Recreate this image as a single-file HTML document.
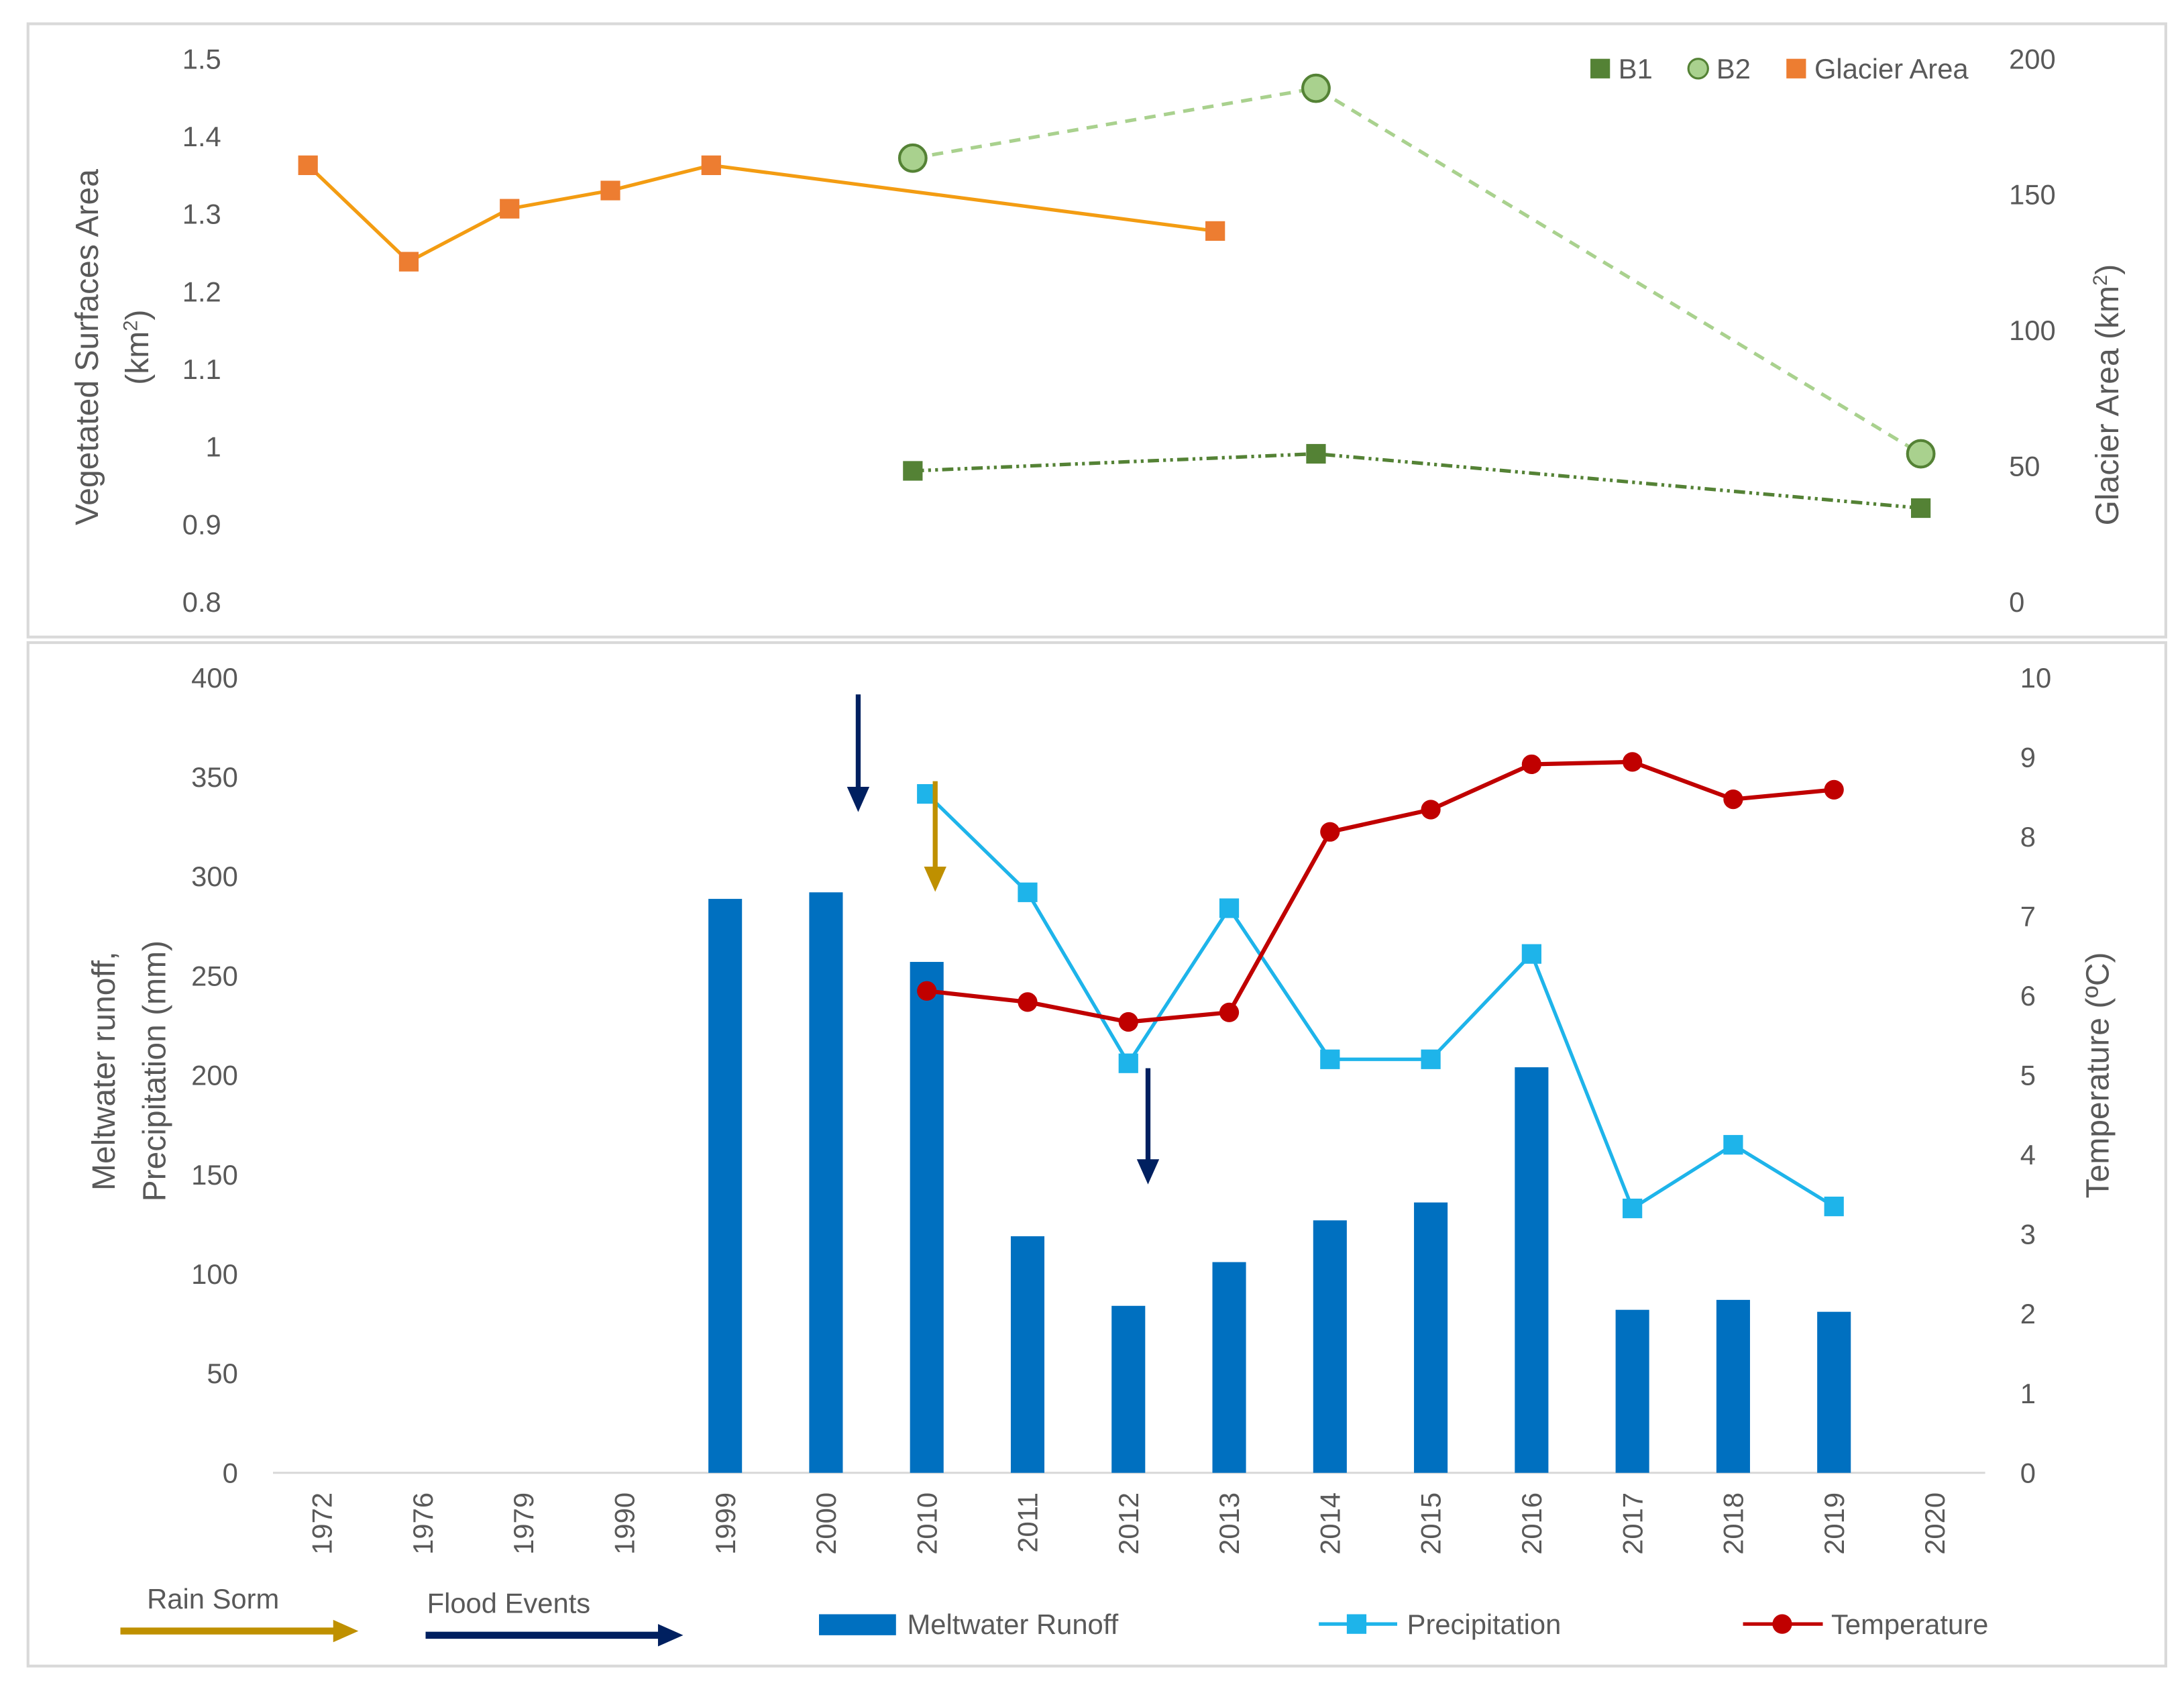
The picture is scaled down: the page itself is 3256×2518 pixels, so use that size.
<!DOCTYPE html>
<html><head><meta charset="utf-8"><style>html,body{margin:0;padding:0;background:#fff}svg{display:block}text{font-family:"Liberation Sans",sans-serif;fill:#595959}</style></head>
<body>
<svg id="chart" width="3256" height="2518" viewBox="0 0 1560 1206.4" preserveAspectRatio="none" xmlns="http://www.w3.org/2000/svg">
<rect x="20" y="17" width="1527" height="438" fill="none" stroke="#d9d9d9" stroke-width="2"/>
<rect x="20" y="459" width="1527" height="731" fill="none" stroke="#d9d9d9" stroke-width="2"/>
<g id="gtop"></g><g id="gbot"></g>
<text x="0" y="0" transform="translate(70,248) rotate(-90)" text-anchor="middle" font-size="23">Vegetated Surfaces Area</text>
<text x="0" y="0" transform="translate(106,248) rotate(-90)" text-anchor="middle" font-size="23">(km<tspan font-size="14" dy="-8">2</tspan><tspan dy="8">)</tspan></text>
<text x="0" y="0" transform="translate(1513,282) rotate(-90)" text-anchor="middle" font-size="23">Glacier Area (km<tspan font-size="14" dy="-8">2</tspan><tspan dy="8">)</tspan></text>
<text x="0" y="0" transform="translate(82,765) rotate(-90)" text-anchor="middle" font-size="23">Meltwater runoff,</text>
<text x="0" y="0" transform="translate(118,765) rotate(-90)" text-anchor="middle" font-size="23">Precipitation (mm)</text>
<text x="0" y="0" transform="translate(1506,768) rotate(-90)" text-anchor="middle" font-size="23">Temperature (ºC)</text>
<g>
<rect x="1136" y="42" width="14" height="14" fill="#548235"/>
<text x="1156" y="56" font-size="20">B1</text>
<circle cx="1213" cy="49" r="7" fill="#a9d18e" stroke="#548235" stroke-width="1.5"/>
<text x="1226" y="56" font-size="20">B2</text>
<rect x="1276" y="42" width="14" height="14" fill="#ed7d31"/>
<text x="1296" y="56" font-size="20">Glacier Area</text>
</g>
<g>
<text x="105" y="1149" font-size="20">Rain Sorm</text>
<line x1="86" y1="1165" x2="240" y2="1165" stroke="#bf9000" stroke-width="5"/><polygon points="238,1157 256,1165 238,1173" fill="#bf9000"/>
<text x="305" y="1152" font-size="20">Flood Events</text>
<line x1="304" y1="1168" x2="472" y2="1168" stroke="#002060" stroke-width="5"/><polygon points="470,1160 488,1168 470,1176" fill="#002060"/>
<rect x="585" y="1153" width="55" height="15" fill="#0070c0"/>
<text x="648" y="1167" font-size="20">Meltwater Runoff</text>
<line x1="942" y1="1160" x2="998" y2="1160" stroke="#1eb4ea" stroke-width="2.5"/><rect x="962" y="1153" width="14" height="14" fill="#1eb4ea"/>
<text x="1005" y="1167" font-size="20">Precipitation</text>
<line x1="1245" y1="1160" x2="1302" y2="1160" stroke="#c00000" stroke-width="2.5"/><circle cx="1273" cy="1160" r="7" fill="#c00000"/>
<text x="1308" y="1167" font-size="20">Temperature</text>
</g>
<g>
<line x1="613" y1="496" x2="613" y2="565" stroke="#002060" stroke-width="3.5"/><polygon points="605,562 621,562 613,580" fill="#002060"/>
<line x1="668" y1="558" x2="668" y2="622" stroke="#bf9000" stroke-width="3.5"/><polygon points="660,619 676,619 668,637" fill="#bf9000"/>
<line x1="820" y1="763" x2="820" y2="831" stroke="#002060" stroke-width="3.5"/><polygon points="812,828 828,828 820,846" fill="#002060"/>
</g>
</svg>
<script>
const glacierIdx=[0,1,2,3,4,9];
const glacierVals=[160.8,125.3,144.8,151.5,160.8,136.6];
const bIdx=[6,10,16];
const b1Vals=[0.969,0.991,0.921];
const b2Vals=[1.372,1.462,0.991];
const leftTicksTop=['1.5','1.4','1.3','1.2','1.1','1','0.9','0.8'];
const rightTicksTop=['200','150','100','50','0'];
const years=['1972','1976','1979','1990','1999','2000','2010','2011','2012','2013','2014','2015','2016','2017','2018','2019','2020'];
const runoff=[null,null,null,null,288.7,292,257,119,84,106,127,136,204,82,87,81,null];
const precip=[null,null,null,null,null,null,341.5,292,206,284,208,208,261,133,165,134,null];
const temp=[null,null,null,null,null,null,6.06,5.92,5.67,5.79,8.06,8.34,8.91,8.94,8.47,8.59,null];
const leftTicksBot=['400','350','300','250','200','150','100','50','0'];
const rightTicksBot=['10','9','8','7','6','5','4','3','2','1','0'];
(function(){
const NS='http://www.w3.org/2000/svg';
const xTop=i=>220+72*i, xBot=i=>230+72*i;
const yTL=v=>42+(1.5-v)/0.7*388, yTR=v=>430-v/200*388;
const yBL=v=>1052-v/400*568, yBR=v=>1052-v/10*568;
function mk(p,t,a){const e=document.createElementNS(NS,t);for(const k in a)e.setAttribute(k,a[k]);p.appendChild(e);return e;}
const gTop=document.getElementById('gtop'), gBot=document.getElementById('gbot');
leftTicksTop.forEach(t=>{const e=mk(gTop,'text',{x:158,y:yTL(+t)+7,'text-anchor':'end','font-size':20});e.textContent=t;

});
rightTicksTop.forEach(t=>{const e=mk(gTop,'text',{x:1435,y:yTR(+t)+7,'font-size':20});e.textContent=t;

});
let pts=glacierIdx.map((k,i)=>xTop(k)+','+yTR(glacierVals[i])).join(' ');
let l=mk(gTop,'polyline',{points:pts,fill:'none',stroke:'#f39c12',"stroke-width":2.5});


glacierIdx.forEach((k,i)=>{const r=mk(gTop,'rect',{x:xTop(k)-7,y:yTR(glacierVals[i])-7,width:14,height:14,fill:'#ed7d31'});

});
pts=bIdx.map((k,i)=>xTop(k)+','+yTL(b2Vals[i])).join(' ');
l=mk(gTop,'polyline',{points:pts,fill:'none',stroke:'#a9d18e',"stroke-width":2.5,"stroke-dasharray":'8,6'});


bIdx.forEach((k,i)=>{const c=mk(gTop,'circle',{cx:xTop(k),cy:yTL(b2Vals[i]),r:9.5,fill:'#a9d18e',stroke:'#548235','stroke-width':2});

});
pts=bIdx.map((k,i)=>xTop(k)+','+yTL(b1Vals[i])).join(' ');
l=mk(gTop,'polyline',{points:pts,fill:'none',stroke:'#548235',"stroke-width":2.5,"stroke-dasharray":'8,3,2,3,2,3'});


bIdx.forEach((k,i)=>{const r=mk(gTop,'rect',{x:xTop(k)-7,y:yTL(b1Vals[i])-7,width:14,height:14,fill:'#548235'});

});
leftTicksBot.forEach(t=>{const e=mk(gBot,'text',{x:170,y:yBL(+t)+7,'text-anchor':'end','font-size':20});e.textContent=t;

});
rightTicksBot.forEach(t=>{const e=mk(gBot,'text',{x:1443,y:yBR(+t)+7,'font-size':20});e.textContent=t;

});
const ax=mk(gBot,'line',{x1:195,y1:1052,x2:1418,y2:1052,stroke:'#d9d9d9','stroke-width':1.5});


years.forEach((y,i)=>{const e=mk(gBot,'text',{transform:`translate(${xBot(i)+7},1066) rotate(-90)`,'text-anchor':'end','font-size':20});e.textContent=y;

});
runoff.forEach((v,i)=>{if(v==null)return;const r=mk(gBot,'rect',{x:xBot(i)-12,y:yBL(v),width:24,height:1052-yBL(v),fill:'#0070c0'});

});
let pp=[];precip.forEach((v,i)=>{if(v!=null)pp.push(xBot(i)+','+yBL(v));});
l=mk(gBot,'polyline',{points:pp.join(' '),fill:'none',stroke:'#1eb4ea','stroke-width':2.5});


precip.forEach((v,i)=>{if(v==null)return;const r=mk(gBot,'rect',{x:xBot(i)-7,y:yBL(v)-7,width:14,height:14,fill:'#1eb4ea'});

});
pp=[];temp.forEach((v,i)=>{if(v!=null)pp.push(xBot(i)+','+yBR(v));});
l=mk(gBot,'polyline',{points:pp.join(' '),fill:'none',stroke:'#c00000','stroke-width':3});


temp.forEach((v,i)=>{if(v==null)return;const c=mk(gBot,'circle',{cx:xBot(i),cy:yBR(v),r:7,fill:'#c00000'});

});
})();
</script>
</body></html>
